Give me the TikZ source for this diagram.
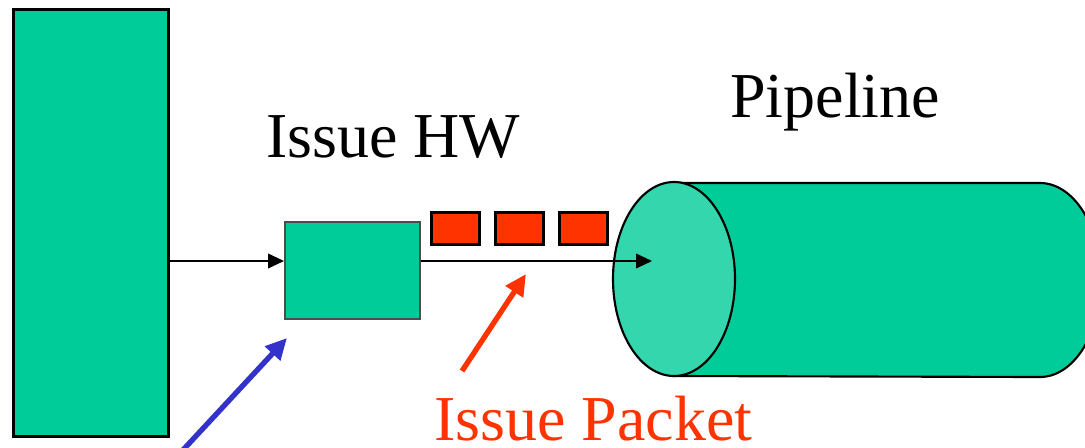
\documentclass[tikz,border=0pt]{standalone}
\usepackage{fontspec}
\setmainfont{Liberation Serif}
\usetikzlibrary{arrows.meta}
\definecolor{unitgreen}{HTML}{00CC99}
\definecolor{facegreen}{HTML}{33D6AD}
\definecolor{packetred}{HTML}{FF3300}
\definecolor{pointblue}{HTML}{3333CC}
\tikzset{
  unit/.style={draw=black, fill=unitgreen, inner sep=0pt, minimum width=#1},
  packet/.style={draw=black, line width=2pt, fill=packetred, inner sep=0pt,
                 minimum width=36pt, minimum height=24pt},
  flow/.style={draw=black, line width=1.4pt,
               -{Triangle[length=12pt, width=11pt]}},
  pointer/.style={line width=4pt, -{Triangle[length=16pt, width=15pt]}},
  bigtext/.style={font=\fontsize{48}{57}\selectfont, anchor=base west, inner sep=0pt}
}
\begin{document}
\begin{tikzpicture}[x=0.75pt, y=-0.75pt]
  \useasboundingbox (0,0) rectangle (1085,447);

  % instruction source
  \node[unit=116.25pt, minimum height=320.25pt, line width=2.5pt,
        anchor=north west] (src) at (12,8) {};

  % issue hardware
  \node[unit=101.25pt, minimum height=72.75pt, draw=black!70, line width=1.2pt,
        anchor=north west] (issue) at (284,221) {};

  % packet slots
  \node[packet, anchor=north west] (p1) at (430,211) {};
  \node[packet, anchor=north west] (p2) at (494,211) {};
  \node[packet, anchor=north west] (p3) at (558,211) {};

  % pipeline cylinder: body with right cap, then front face
  \begin{scope}
    \clip (0,0) rectangle (1085,447);
    \draw[line width=1.6pt, fill=unitgreen]
      (674,183) -- (1040,183) arc[start angle=-90, end angle=90, x radius=61, y radius=97]
      -- (674,376) -- cycle;
  \end{scope}
  \draw[line width=1.6pt, fill=facegreen] (674,279) ellipse[x radius=61, y radius=97];
  \coordinate (pipein) at (652,261);

  % connectors
  \draw[flow] (src.east |- 0,261) -- (issue.west |- 0,261);
  \draw[flow] (issue.east |- 0,261) -- (pipein);

  % labels
  \node[bigtext] (lblpipe) at (730,117) {Pipeline};
  \node[bigtext] (lblissue) at (266,157) {Issue HW};
  \node[bigtext, text=packetred] (lblpacket) at (434,440) {Issue Packet};

  % pointers
  \coordinate (redtail) at (462,371);
  \coordinate (redtip) at (526,274);
  \draw[pointer, packetred] (redtail) -- (redtip);
  \coordinate (bluetail) at (183,450);
  \coordinate (bluetip) at (287,338);
  \draw[pointer, pointblue] (bluetail) -- (bluetip);
\end{tikzpicture}
\end{document}
